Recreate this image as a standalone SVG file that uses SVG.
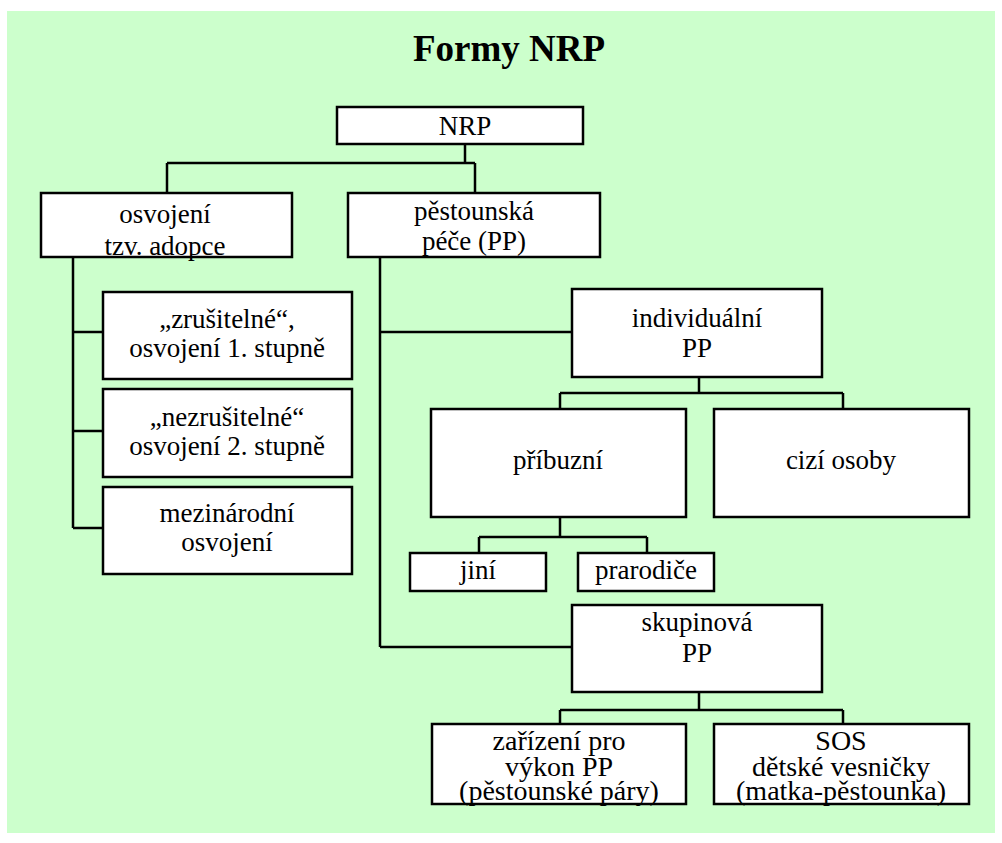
<svg xmlns="http://www.w3.org/2000/svg" width="1002" height="843" viewBox="0 0 1002 843">
<style>
.box{fill:#ffffff;stroke:#000000;stroke-width:2.5}
.t{font-family:"Liberation Serif","DejaVu Serif",serif;font-size:27px;fill:#000000;text-anchor:middle}
.tb{font-size:28px}
.title{font-family:"Liberation Serif","DejaVu Serif",serif;font-size:37px;font-weight:bold;fill:#000000;text-anchor:middle}
.c{fill:none;stroke:#000000;stroke-width:2.5}
</style>
<rect x="0" y="0" width="1002" height="843" fill="#ffffff"/>
<rect x="7" y="11" width="988" height="822" fill="#ccffcc"/>
<text class="title" x="509" y="61">Formy NRP</text>
<g id="connectors">
<path class="c" d="M465 144V163M167 163H475M167 163V193M475 163V193"/>
<path class="c" d="M73 257V528M73 332H103M73 431H103M73 528H103"/>
<path class="c" d="M380 257V647M380 332H572M380 647H572"/>
<path class="c" d="M699 377V393M560 393H843M560 393V409M843 393V409"/>
<path class="c" d="M560 517V537M479 537H647M479 537V553M647 537V553"/>
<path class="c" d="M699 692V710M560 710H843M560 710V724M843 710V724"/>
</g>
<g id="n-nrp"><rect class="box" x="337" y="107" width="246" height="37"/><text class="t" x="465" y="135">NRP</text></g>
<g id="n-osvojeni"><rect class="box" x="41" y="193" width="251" height="64"/><text class="t" x="165" y="223">osvojení</text><text class="t" x="165" y="255">tzv. adopce</text></g>
<g id="n-pestounska"><rect class="box" x="348" y="193" width="252" height="64"/><text class="t" x="474" y="220">pěstounská</text><text class="t" x="474" y="250">péče (PP)</text></g>
<g id="n-zrusitelne"><rect class="box" x="103" y="292" width="249" height="87"/><text class="t" x="227" y="328">„zrušitelné“,</text><text class="t" x="227" y="357">osvojení 1. stupně</text></g>
<g id="n-nezrusitelne"><rect class="box" x="103" y="389" width="249" height="88"/><text class="t" x="227" y="426">„nezrušitelné“</text><text class="t" x="227" y="455">osvojení 2. stupně</text></g>
<g id="n-mezinarodni"><rect class="box" x="103" y="487" width="249" height="87"/><text class="t" x="227" y="522">mezinárodní</text><text class="t" x="227" y="551">osvojení</text></g>
<g id="n-individualni"><rect class="box" x="572" y="289" width="250" height="88"/><text class="t" x="697" y="327">individuální</text><text class="t" x="697" y="357">PP</text></g>
<g id="n-pribuzni"><rect class="box" x="431" y="409" width="255" height="108"/><text class="t" x="558" y="469">příbuzní</text></g>
<g id="n-cizi"><rect class="box" x="714" y="409" width="255" height="108"/><text class="t" x="841" y="469">cizí osoby</text></g>
<g id="n-jini"><rect class="box" x="410" y="553" width="136" height="38"/><text class="t" x="478" y="579">jiní</text></g>
<g id="n-prarodice"><rect class="box" x="578" y="553" width="136" height="38"/><text class="t" x="646" y="579">prarodiče</text></g>
<g id="n-skupinova"><rect class="box" x="572" y="605" width="250" height="87"/><text class="t" x="697" y="631">skupinová</text><text class="t" x="697" y="662">PP</text></g>
<g id="n-zarizeni"><rect class="box" x="432" y="724" width="254" height="80"/><text class="t tb" x="559" y="750">zařízení pro</text><text class="t tb" x="559" y="776">výkon PP</text><text class="t tb" x="559" y="800">(pěstounské páry)</text></g>
<g id="n-sos"><rect class="box" x="714" y="724" width="255" height="80"/><text class="t tb" x="841" y="750">SOS</text><text class="t tb" x="841" y="776">dětské vesničky</text><text class="t tb" x="841" y="800">(matka-pěstounka)</text></g>
</svg>
